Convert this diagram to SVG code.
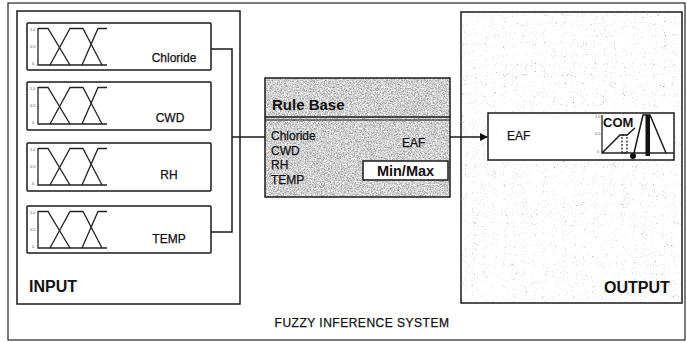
<svg xmlns="http://www.w3.org/2000/svg" width="687" height="343" viewBox="0 0 687 343">
<style>
.ln{fill:none;stroke:#1a1a1a;stroke-width:1.5}
.box{fill:#fff;stroke:#1a1a1a;stroke-width:1.5}
.thin{fill:none;stroke:#222;stroke-width:1.3}
.lbl{font-family:"Liberation Sans",Arial,sans-serif;font-size:12px;fill:#111;stroke:#111;stroke-width:0.25}
.bold{font-family:"Liberation Sans",Arial,sans-serif;font-weight:bold;fill:#111}
.tick{font-family:"Liberation Sans",Arial,sans-serif;font-size:4px;fill:#555}
</style>
<defs>
<filter id="texC" x="0" y="0" width="1" height="1" color-interpolation-filters="sRGB">
<feTurbulence type="fractalNoise" baseFrequency="0.7" numOctaves="3" seed="7" result="n"/>
<feColorMatrix in="n" type="matrix" values="1 0 0 0 0  1 0 0 0 0  1 0 0 0 0  0 0 0 0 1"/>
<feComponentTransfer>
<feFuncR type="discrete" tableValues="0.55 0.68 0.82 0.95 1"/>
<feFuncG type="discrete" tableValues="0.55 0.68 0.82 0.95 1"/>
<feFuncB type="discrete" tableValues="0.55 0.68 0.82 0.95 1"/>
</feComponentTransfer>
</filter>
<filter id="texO" x="0" y="0" width="1" height="1" color-interpolation-filters="sRGB">
<feTurbulence type="fractalNoise" baseFrequency="0.9" numOctaves="2" seed="3" result="n"/>
<feColorMatrix in="n" type="matrix" values="1 0 0 0 0  1 0 0 0 0  1 0 0 0 0  0 0 0 0 1"/>
<feComponentTransfer>
<feFuncR type="discrete" tableValues="0.5 0.7 0.9 1 1 1 1 1 0.9 0.75 0.55"/>
<feFuncG type="discrete" tableValues="0.5 0.7 0.9 1 1 1 1 1 0.9 0.75 0.55"/>
<feFuncB type="discrete" tableValues="0.5 0.7 0.9 1 1 1 1 1 0.9 0.75 0.55"/>
</feComponentTransfer>
</filter>
<g id="mf">
<path class="thin" d="M0 0 V37 H69"/>
<path class="thin" d="M0 0.5 H10 L32 37"/>
<path class="thin" d="M12 37 L32 0.5 H45 L64 37"/>
<path class="thin" d="M44 37 L60 0.5 H69"/>
<text class="tick" x="-8" y="3">1.0</text>
<text class="tick" x="-8" y="20">0.5</text>
<text class="tick" x="-6" y="37">0</text>
</g>
<marker id="arr" markerWidth="8" markerHeight="8" refX="7" refY="4" orient="auto" markerUnits="userSpaceOnUse">
<path d="M0 0 L8 4 L0 8 Z" fill="#111"/>
</marker>
</defs>

<rect width="687" height="343" fill="#fff"/>

<g id="system">
<rect x="8" y="3" width="677" height="337" fill="none" stroke="#333" stroke-width="1.3"/>
<text class="lbl" x="362" y="327" text-anchor="middle" font-size="14.5" letter-spacing="0.5">FUZZY INFERENCE SYSTEM</text>
</g>

<g id="input">
<rect x="17" y="11" width="223" height="293" class="box"/>
<text class="bold" x="29" y="292" font-size="16">INPUT</text>
</g>

<g id="in-chloride">
<rect x="27" y="23" width="184" height="47" class="box" rx="1"/>
<use href="#mf" transform="translate(38,28)"/>
<text class="lbl" x="174" y="62" text-anchor="middle">Chloride</text>
</g>
<g id="in-cwd">
<rect x="27" y="82" width="184" height="48" class="box" rx="1"/>
<use href="#mf" transform="translate(38,87)"/>
<text class="lbl" x="170" y="122" text-anchor="middle">CWD</text>
</g>
<g id="in-rh">
<rect x="27" y="143" width="184" height="48" class="box" rx="1"/>
<use href="#mf" transform="translate(38,148)"/>
<text class="lbl" x="169" y="179" text-anchor="middle">RH</text>
</g>
<g id="in-temp">
<rect x="27" y="206" width="184" height="47" class="box" rx="1"/>
<use href="#mf" transform="translate(38,211)"/>
<text class="lbl" x="169" y="243" text-anchor="middle">TEMP</text>
</g>

<g id="output">
<rect x="461" y="12" width="221" height="291" fill="#fff" filter="url(#texO)"/>
<rect x="461" y="12" width="221" height="291" fill="none" stroke="#1a1a1a" stroke-width="1.5"/>
<text class="bold" x="604" y="293" font-size="16">OUTPUT</text>
</g>

<g id="rule-base">
<rect x="265" y="78" width="185" height="119" fill="#ccc" filter="url(#texC)"/>
<rect x="265" y="78" width="185" height="119" fill="none" stroke="#1a1a1a" stroke-width="1.5"/>
<line x1="265" y1="117" x2="450" y2="117" stroke="#1a1a1a" stroke-width="1.3"/>
<line x1="265" y1="120" x2="450" y2="120" stroke="#1a1a1a" stroke-width="1"/>
<text class="bold" x="272" y="110" font-size="15">Rule Base</text>
<text class="lbl" x="271" y="140">Chloride</text>
<text class="lbl" x="271" y="155">CWD</text>
<text class="lbl" x="271" y="169">RH</text>
<text class="lbl" x="271" y="184">TEMP</text>
<text class="lbl" x="402" y="147">EAF</text>
<rect x="363" y="161" width="85" height="19" class="box"/>
<text class="bold" x="405.5" y="176" font-size="14.5" text-anchor="middle">Min/Max</text>
</g>

<g id="out-eaf">
<rect x="488" y="113" width="186" height="47" class="box"/>
<text class="lbl" x="507" y="140">EAF</text>
<path class="thin" d="M602 115 V153 H674"/>
<text class="tick" x="595" y="118">1.0</text>
<text class="tick" x="595" y="135">0.5</text>
<text class="tick" x="597" y="153">0</text>
<path class="ln" d="M602 153 L620 135 H627 L635 128"/>
<rect x="622" y="135" width="5" height="18" fill="none" stroke="#111" stroke-width="1.2" stroke-dasharray="2 1.5"/>
<path class="ln" d="M634 153 L643 115 H650 L666 153" stroke-width="2"/>
<rect x="645.5" y="115" width="4.5" height="41" fill="#111"/>
<circle cx="633" cy="156" r="3" fill="#111"/>
<text class="bold" x="603" y="127" font-size="13">COM</text>
</g>

<g id="connectors">
<path class="ln" d="M211 49 H232 V232 H211"/>
<path class="ln" d="M232 137 H265"/>
<path class="ln" d="M450 137 H487" marker-end="url(#arr)"/>
</g>
</svg>
